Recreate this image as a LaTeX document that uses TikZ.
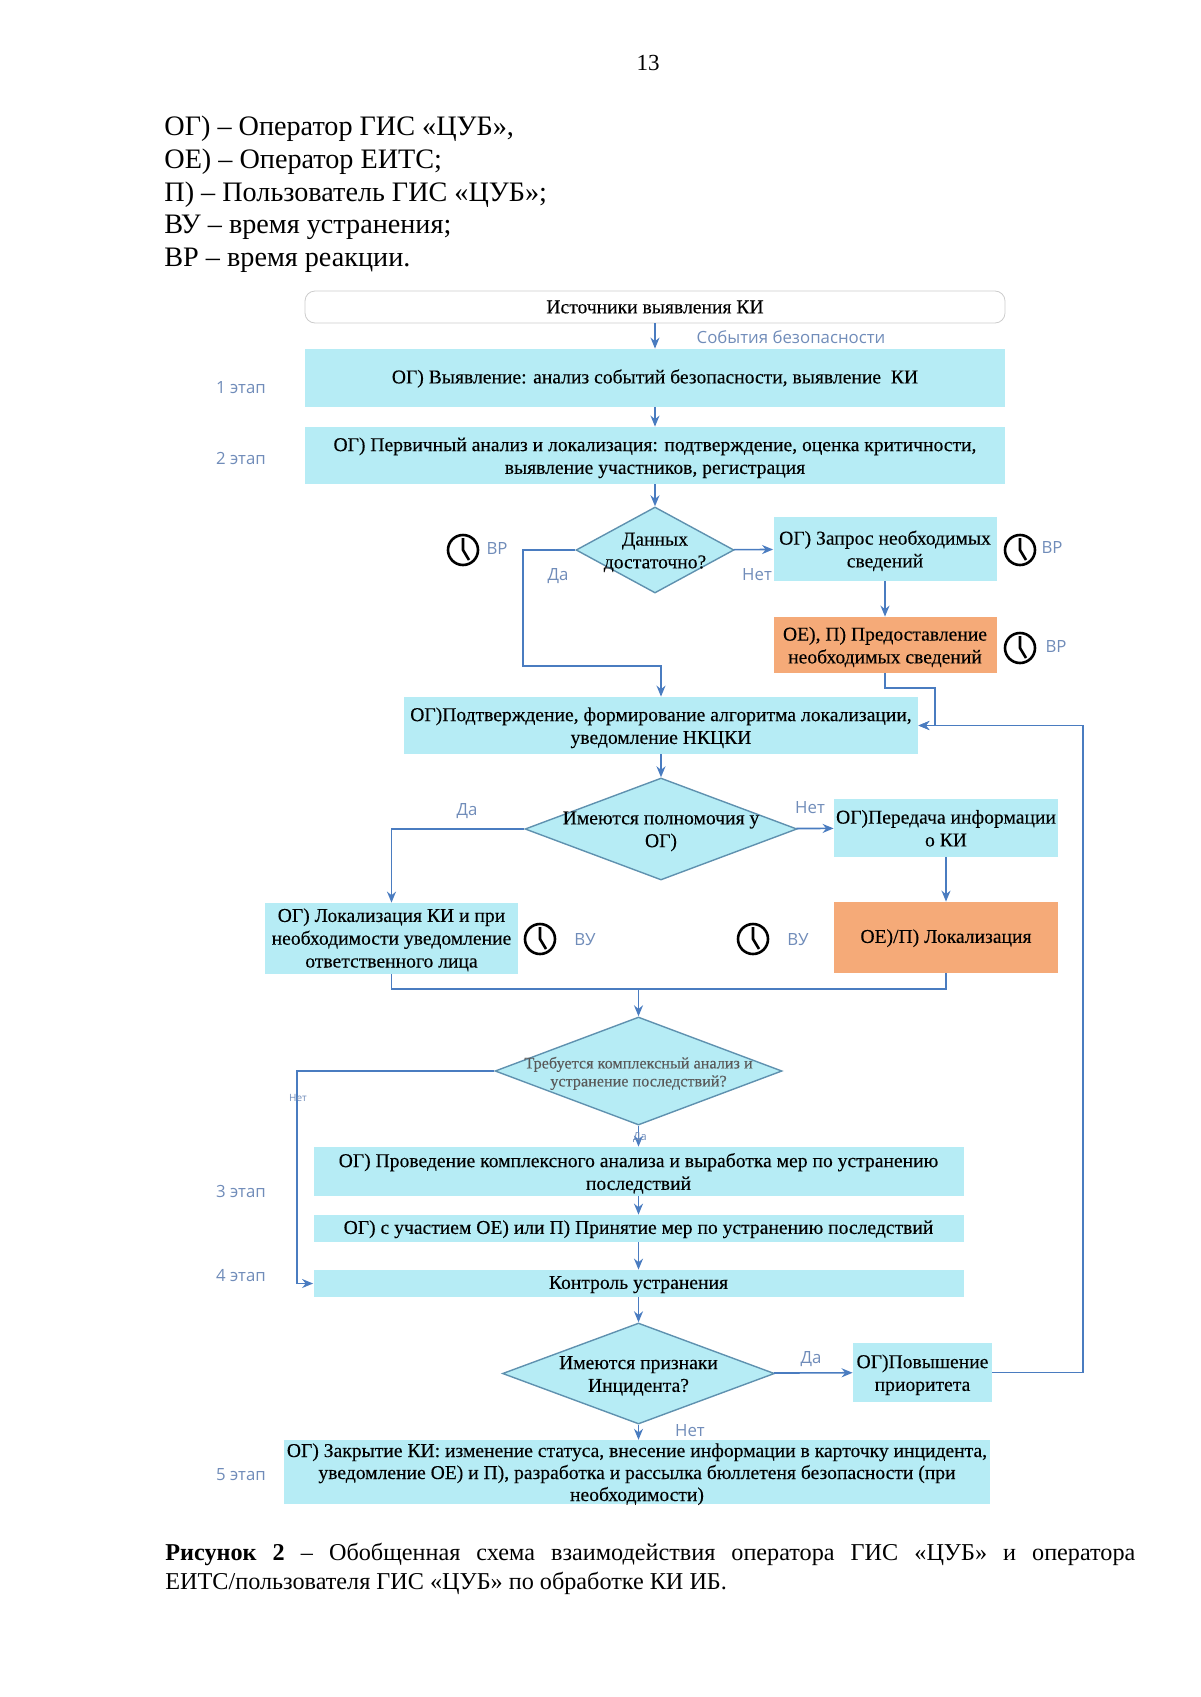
\documentclass[tikz,border=0pt]{standalone}
\usepackage{fontspec}
\setmainfont{Liberation Serif}
\newfontfamily\notefont{Open Sans}
\newfontfamily\boxfont[FakeBold=0.2]{Liberation Serif}
\usetikzlibrary{shapes.geometric,arrows.meta}
\definecolor{boxcyan}{RGB}{182,236,245}
\definecolor{boxorange}{RGB}{245,170,120}
\definecolor{linkblue}{RGB}{74,124,192}
\definecolor{noteblue}{RGB}{112,140,185}
\definecolor{edgeblue}{RGB}{95,145,175}
\tikzset{
  stagebox/.style={fill=boxcyan,inner sep=0pt,align=center,font=\boxfont\fontsize{9.8}{11.4}\selectfont},
  oneline/.style={text height=7pt,text depth=1.6pt},
  twoline/.style={text height=20pt,text depth=1.6pt},
  threeline/.style={text height=30.4pt,text depth=1.4pt},
  orangebox/.style={stagebox,fill=boxorange},
  askbox/.style={shape=diamond,fill=boxcyan,draw=edgeblue,line width=0.7pt,inner sep=0pt},
  asktext/.style={align=center,yshift=-1.2pt,font=\boxfont\fontsize{9.8}{11.4}\selectfont},
  link/.style={-{Stealth[length=5.5pt,width=4.5pt]},line width=0.8pt,color=linkblue},
  plainlink/.style={line width=0.8pt,color=linkblue},
  note/.style={font=\notefont\fontsize{8.4}{9}\selectfont,color=noteblue},
  clockicon/.pic={
    \draw[line width=1.3pt] (0,0) circle (15);
    \draw[line width=1.3pt] (0,-12) -- (0,0) -- (6,10);
  }
}
\begin{document}
\begin{tikzpicture}[x=0.5pt,y=-0.5pt]
  \useasboundingbox (0,0) rectangle (1200,1697);
  % page text
  \node[font=\fontsize{11.5}{13}\selectfont] (pagenum) at (648,63) {13};
  \node[anchor=north west,inner sep=0pt,align=left,font=\fontsize{14.1}{16.3}\selectfont] (legend) at (164,116)
    {ОГ) -- Оператор ГИС «ЦУБ»,\\ОЕ) -- Оператор ЕИТС;\\П) -- Пользователь ГИС «ЦУБ»;\\ВУ -- время устранения;\\ВР -- время реакции.};
  \node[anchor=north west,inner sep=0pt,text width=485pt,align=justify,font=\fontsize{12.1}{14.5}\selectfont] (caption) at (165,1543)
    {\textbf{Рисунок 2} -- Обобщенная схема взаимодействия оператора ГИС «ЦУБ» и оператора\linebreak ЕИТС/пользователя ГИС «ЦУБ» по обработке КИ ИБ.};
  % top part
  \node[draw=black!20,rounded corners=5pt,inner sep=0pt,minimum width=350pt,minimum height=16pt,font=\boxfont\fontsize{9.8}{11.4}\selectfont] (source) at (655,307) {Источники выявления КИ};
  \node[stagebox,oneline,minimum width=350pt,minimum height=29pt] (detect) at (655,378) {ОГ) Выявление: анализ событий безопасности, выявление~~КИ};
  \node[stagebox,twoline,minimum width=350pt,minimum height=28.5pt] (primary) at (655,455.5) {ОГ) Первичный анализ и локализация: подтверждение, оценка критичности,\\выявление участников, регистрация};
  \node[askbox,minimum width=79pt,minimum height=43pt,label={[asktext]center:Данных\\достаточно?}] (enough) at (655,550) {};
  \node[stagebox,twoline,minimum width=111.5pt,minimum height=32pt] (request) at (885,549) {ОГ) Запрос необходимых\\сведений};
  \node[orangebox,twoline,minimum width=111.5pt,minimum height=28pt] (provide) at (885,645) {ОЕ), П) Предоставление\\необходимых сведений};
  \node[stagebox,twoline,minimum width=257pt,minimum height=28.5pt] (confirm) at (661,725.5) {ОГ)Подтверждение, формирование алгоритма локализации,\\уведомление НКЦКИ};
  % middle part
  \node[askbox,minimum width=136pt,minimum height=51pt,label={[asktext]center:Имеются полномочия у\\ОГ)}] (rights) at (661,829) {};
  \node[stagebox,twoline,minimum width=112pt,minimum height=29pt] (transfer) at (946,828) {ОГ)Передача информации\\о КИ};
  \node[stagebox,threeline,minimum width=126.5pt,minimum height=35.5pt] (localme) at (391.5,938.5) {ОГ) Локализация КИ и при\\необходимости уведомление\\ответственного лица};
  \node[orangebox,oneline,minimum width=112pt,minimum height=35.5pt] (localoe) at (946,937.5) {ОЕ)/П) Локализация};
  \coordinate (joinpt) at (638.5,989);
  \node[askbox,minimum width=143.5pt,minimum height=54pt,label={[asktext,font=\boxfont\fontsize{8.1}{9}\selectfont,text=black!65]center:Требуется комплексный анализ и\\устранение последствий?}] (complex) at (638.5,1071) {};
  % lower part
  \node[stagebox,twoline,minimum width=325pt,minimum height=24.5pt] (measures) at (638.5,1171.5) {ОГ) Проведение комплексного анализа и выработка мер по устранению\\последствий};
  \node[stagebox,oneline,minimum width=325pt,minimum height=13.5pt] (apply) at (638.5,1228.5) {ОГ) с участием ОЕ) или П) Принятие мер по устранению последствий};
  \node[stagebox,oneline,minimum width=325pt,minimum height=13.5pt] (control) at (638.5,1283.5) {Контроль устранения};
  \node[askbox,minimum width=136pt,minimum height=50.5pt,label={[asktext]center:Имеются признаки\\Инцидента?}] (signs) at (638.5,1373.5) {};
  \node[stagebox,twoline,minimum width=69.5pt,minimum height=29.5pt] (raise) at (922.5,1372.5) {ОГ)Повышение\\приоритета};
  \node[stagebox,threeline,minimum width=353pt,minimum height=29pt,font=\boxfont\fontsize{9.8}{11}\selectfont] (closing) at (637,1472) {ОГ) Закрытие КИ: изменение статуса, внесение информации в карточку инцидента,\\уведомление ОЕ) и П), разработка и рассылка бюллетеня безопасности (при\\необходимости)};
  % connectors
  \draw[link] (source) -- (detect);
  \draw[link] (detect) -- (primary);
  \draw[link] (primary) -- (enough);
  \draw[link] (enough) -- (request);
  \draw[link] (request) -- (provide);
  \coordinate (yesbend) at (523,666);
  \draw[link] (enough.west) -| (yesbend) -| (confirm.north);
  \coordinate (givebend) at (935,688);
  \draw[link] (provide.south) |- (givebend) |- (confirm.east);
  \draw[link] (confirm) -- (rights);
  \draw[link] (rights) -- (transfer);
  \draw[link] (rights.west) -| (localme.north);
  \draw[link] (transfer) -- (localoe);
  \draw[plainlink] (localme.south) |- (joinpt) -| (localoe.south);
  \draw[link] (joinpt) -- (complex.north);
  \coordinate (nobend) at (297,1283.5);
  \draw[link] (complex.west) -| (nobend) -- (control.west);
  \draw[link] (complex.south) -- (measures.north);
  \draw[link] (measures) -- (apply);
  \draw[link] (apply) -- (control);
  \draw[link] (control) -- (signs);
  \draw[link] (signs) -- (raise);
  \draw[link] (signs.south) -- (signs.south |- closing.north);
  \coordinate (backbend) at (1083,725.5);
  \draw[link] (raise.east) -| (backbend) -- (confirm.east);
  % clocks
  \foreach \cx/\cy/\cname in {463/550/clka,1020/550/clkb,1020/648/clkc,540/939/clkd,753/939/clke}
    \pic (\cname) at (\cx,\cy) {clockicon};
  % notes
  \node[note] (evnote) at (791,337) {События безопасности};
  \node[note] (st1) at (241,388) {1 этап};
  \node[note] (st2) at (241,458) {2 этап};
  \node[note] (st3) at (241,1191) {3 этап};
  \node[note] (st4) at (241,1276) {4 этап};
  \node[note] (st5) at (241,1475) {5 этап};
  \node[note] (vra) at (497,548) {ВР};
  \node[note] (vrb) at (1052,547) {ВР};
  \node[note] (vrc) at (1056,646) {ВР};
  \node[note] (vua) at (585,940) {ВУ};
  \node[note] (vub) at (798,940) {ВУ};
  \node[note] (yesa) at (558,576) {Да};
  \node[note] (noa) at (757,575) {Нет};
  \node[note] (yesb) at (467,811) {Да};
  \node[note] (nob) at (810,808) {Нет};
  \node[note,font=\notefont\fontsize{5}{6}\selectfont] (noc) at (298,1098) {Нет};
  \node[note,font=\notefont\fontsize{5.5}{6}\selectfont] (yesc) at (640,1138) {Да};
  \node[note] (yesd) at (811,1359) {Да};
  \node[note] (nod) at (690,1431) {Нет};
\end{tikzpicture}
\end{document}
